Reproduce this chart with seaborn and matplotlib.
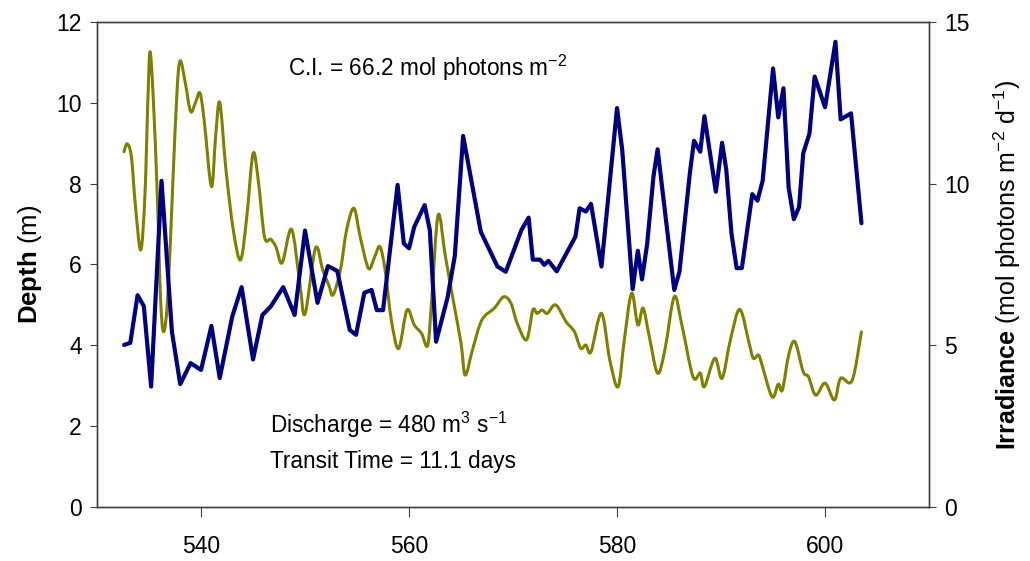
import matplotlib
matplotlib.use("Agg")
import matplotlib.pyplot as plt
from matplotlib.path import Path
from matplotlib.patches import PathPatch
import seaborn as sns
import pandas as pd
import numpy as np

# Day of year and mean mixed-layer depth (m)
depth_day = [532.6, 533.2, 533.9, 534.5, 535.2, 536.2, 537.2, 538.0, 539.0, 540.0,
             541.0, 541.8, 543.0, 543.9, 545.0, 545.9, 546.7, 547.9, 549.0, 550.0,
             551.2, 552.2, 553.1, 554.3, 554.9, 555.7, 556.4, 556.9, 557.5, 558.9,
             559.5, 560.0, 560.5, 561.5, 562.0, 562.6, 563.7, 564.4, 565.2, 566.9,
             568.5, 569.3, 570.8, 571.5, 571.9, 572.6, 573.0, 573.4, 574.2, 576.0,
             576.4, 577.0, 577.5, 578.5, 580.0, 580.5, 581.5, 582.0, 582.4, 582.9,
             583.5, 583.9, 585.5, 586.0, 587.0, 587.4, 588.0, 588.4, 589.5, 590.1,
             590.5, 591.0, 591.5, 592.0, 593.0, 593.5, 594.0, 595.0, 595.5, 596.0,
             596.5, 597.0, 597.5, 597.9, 598.5, 599.0, 600.0, 601.0, 601.5, 602.5,
             603.5]
depth_m = [4.01, 4.06, 5.24, 4.97, 2.98, 8.07, 4.34, 3.04, 3.56, 3.39,
           4.48, 3.19, 4.71, 5.44, 3.65, 4.75, 4.96, 5.44, 4.75, 6.84,
           5.05, 5.96, 5.84, 4.38, 4.26, 5.30, 5.37, 4.87, 4.87, 7.97,
           6.52, 6.40, 6.93, 7.47, 6.85, 4.09, 5.18, 6.21, 9.18, 6.81,
           5.95, 5.82, 6.85, 7.16, 6.12, 6.12, 5.99, 6.09, 5.83, 6.69,
           7.39, 7.31, 7.50, 5.95, 9.87, 8.83, 5.39, 6.34, 5.63, 6.52,
           8.17, 8.85, 5.37, 5.82, 8.26, 9.06, 8.79, 9.67, 7.80, 9.01,
           8.35, 6.77, 5.91, 5.91, 7.74, 7.58, 8.07, 10.85, 9.64, 10.36,
           7.90, 7.12, 7.42, 8.75, 9.24, 10.65, 9.89, 11.51, 9.59, 9.74,
           7.02]

# Day of year and mean irradiance in the mixed layer (mol photons m-2 d-1)
irr_day = [532.6, 532.9, 533.3, 533.7, 534.2, 534.6, 534.9, 535.1, 535.4, 535.8,
           536.1, 536.4, 536.8, 537.3, 537.7, 538.0, 538.5, 539.0, 539.5, 539.9,
           540.3, 541.0, 541.4, 541.8, 542.4, 543.1, 543.8, 544.4, 545.0, 545.5,
           546.1, 546.7, 547.2, 547.8, 548.7, 549.5, 550.0, 551.0, 551.7, 552.3,
           552.7, 553.4, 554.0, 554.7, 555.3, 556.1, 556.7, 557.2, 557.7, 558.3,
           559.0, 559.8, 560.5, 561.2, 561.8, 562.2, 562.8, 563.5, 564.3, 565.0,
           565.4, 566.1, 567.0, 568.2, 569.1, 569.8, 570.4, 571.3, 571.9, 572.3,
           572.8, 573.3, 574.1, 575.1, 575.9, 576.5, 577.0, 577.5, 578.5, 579.3,
           580.1, 580.7, 581.4, 582.0, 582.5, 583.1, 583.9, 584.6, 585.5, 586.2,
           587.3, 588.0, 588.4, 589.4, 590.1, 590.9, 591.8, 592.7, 593.1, 593.6,
           593.9, 594.9, 595.5, 595.9, 596.5, 597.1, 597.9, 598.4, 599.1, 600.0,
           600.9, 601.5, 602.6, 603.5]
irradiance = [10.99, 11.23, 10.84, 9.29, 7.95, 9.60, 12.69, 14.08, 12.69, 9.60,
              6.50, 5.42, 6.50, 10.11, 12.90, 13.80, 13.10, 12.23, 12.54, 12.80,
              11.97, 9.91, 11.45, 12.51, 10.42, 8.57, 7.64, 8.98, 10.93, 10.11,
              8.36, 8.28, 8.05, 7.55, 8.59, 6.92, 5.97, 8.00, 7.33, 6.85,
              6.56, 7.33, 8.57, 9.24, 8.36, 7.38, 7.74, 8.05, 7.33, 5.78,
              4.90, 6.09, 5.63, 5.37, 5.01, 6.50, 9.03, 7.74, 6.30, 5.06,
              4.08, 4.86, 5.78, 6.15, 6.50, 6.30, 5.68, 5.17, 6.09, 5.99,
              6.09, 5.99, 6.25, 5.73, 5.42, 4.91, 5.01, 4.80, 5.99, 4.55,
              3.72, 5.17, 6.61, 5.63, 6.15, 5.27, 4.14, 4.86, 6.50, 5.68,
              4.03, 4.14, 3.72, 4.60, 3.98, 5.17, 6.11, 5.06, 4.60, 4.70,
              4.44, 3.41, 3.80, 3.62, 4.70, 5.11, 4.18, 4.03, 3.46, 3.83,
              3.31, 3.98, 3.91, 5.42]

x_ticks = [540, 560, 580, 600]
depth_ticks = [0, 2, 4, 6, 8, 10, 12]
irr_ticks = [0, 5, 10, 15]

sns.set_theme(style="white")
plt.rcParams["font.family"] = ["Liberation Sans", "DejaVu Sans"]
plt.rcParams["mathtext.fontset"] = "custom"
plt.rcParams["mathtext.rm"] = "Liberation Sans"
plt.rcParams["mathtext.it"] = "Liberation Sans:italic"
plt.rcParams["mathtext.bf"] = "Liberation Sans:bold"
for key in ("text.color", "axes.labelcolor", "xtick.color", "ytick.color"):
    plt.rcParams[key] = "black"


def smooth_path(xs, ys):
    """Smoothed-line path through every point (Catmull-Rom as cubic Beziers)."""
    p = np.column_stack([xs, ys]).astype(float)
    ext = np.vstack([p[0], p, p[-1]])
    verts = [p[0]]
    codes = [Path.MOVETO]
    for i in range(1, len(ext) - 2):
        p0, p1, p2, p3 = ext[i - 1], ext[i], ext[i + 1], ext[i + 2]
        verts += [p1 + (p2 - p0) / 6.0, p2 - (p3 - p1) / 6.0, p2]
        codes += [Path.CURVE4] * 3
    return Path(verts, codes)


depth_df = pd.DataFrame({"day": depth_day, "depth": depth_m})
irr_df = pd.DataFrame({"day": irr_day, "irr": irradiance})

fig = plt.figure(figsize=(10.30, 5.61), dpi=100)
ax = fig.add_axes([0.0942, 0.0963, 0.8078, 0.8645])
ax2 = ax.twinx()

# Depth: straight segments between observations
sns.lineplot(data=depth_df, x="day", y="depth", ax=ax, color="#000080",
             linewidth=3.0, sort=False, estimator=None,
             solid_joinstyle="round", solid_capstyle="round", zorder=3)

# Irradiance: smoothed line through the daily values on the right axis
sns.lineplot(data=irr_df, x="day", y="irr", ax=ax2, color="#808000",
             linewidth=0, sort=False, estimator=None)
ax2.add_patch(PathPatch(smooth_path(irr_df["day"], irr_df["irr"]),
                        facecolor="none", edgecolor="#808000", linewidth=2.2,
                        capstyle="round", joinstyle="round"))

ax.set_zorder(ax2.get_zorder() + 1)
ax.patch.set_visible(False)

ax.set_xlim(530, 610)
ax.set_ylim(0, 12)
ax2.set_ylim(0, 15)
ax.set_xticks(x_ticks)
ax.set_yticks(depth_ticks)
ax2.set_yticks(irr_ticks)

tick_fs = 16.5
spine_col = "#404040"
for a in (ax, ax2):
    for s in a.spines.values():
        s.set_color(spine_col)
        s.set_linewidth(1.0)
    a.grid(False)
ax.tick_params(axis="x", direction="out", length=7, width=0.8, color=spine_col,
               labelsize=tick_fs, pad=13, bottom=True)
ax.tick_params(axis="y", direction="out", length=5, width=0.8, color=spine_col,
               labelsize=tick_fs, pad=6, left=True)
ax2.tick_params(axis="y", direction="out", length=5, width=0.8, color=spine_col,
                labelsize=tick_fs, pad=6, right=True)

ax.set_xlabel("")
ax.set_ylabel(r"$\mathbf{Depth}$ (m)", fontsize=18.5, labelpad=8.5)
ax2.set_ylabel(r"$\mathbf{Irradiance}$ (mol photons m$^{-2}$ d$^{-1}$)",
               fontsize=18, labelpad=16)

ax.text(0.23, 0.905, r"C.I. = 66.2 mol photons m$^{-2}$", transform=ax.transAxes,
        fontsize=16.3, va="center", ha="left")
ax.text(0.208, 0.17, r"Discharge = 480 m$^{3}$ s$^{-1}$", transform=ax.transAxes,
        fontsize=16.3, va="center", ha="left")
ax.text(0.208, 0.093, "Transit Time = 11.1 days", transform=ax.transAxes,
        fontsize=16.3, va="center", ha="left")

fig.savefig("out.png", dpi=100)
